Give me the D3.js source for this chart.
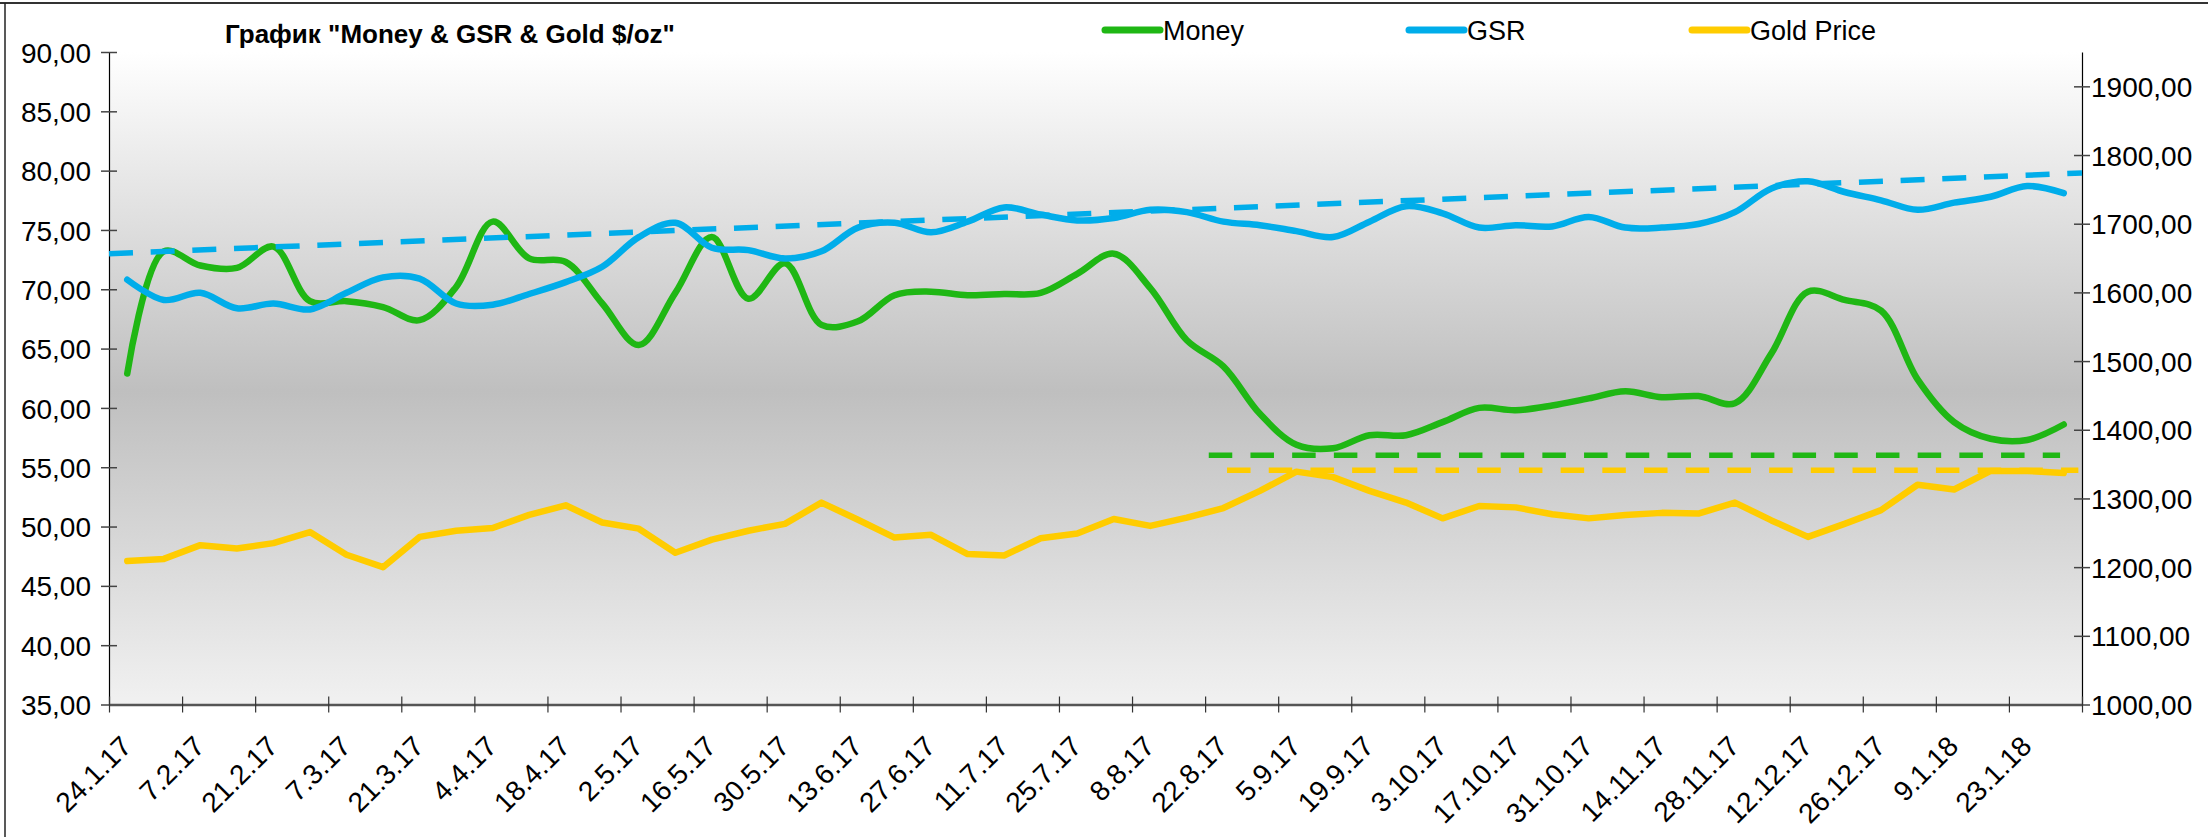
<!DOCTYPE html>
<html>
<head>
<meta charset="utf-8"/>
<title>Money & GSR & Gold</title>
<script src="https://cdn.jsdelivr.net/npm/d3@7"></script>
<style>
	body{margin:0;background:#fff;}
	svg{display:block;font-family:"Liberation Sans",Arial,sans-serif;}
	.tick text{font-size:28px;fill:#000;}
</style>
</head>
<body>
<script>
// weekly categories, every second one is labelled
var dates = ['24.1.17','31.1.17','7.2.17','14.2.17','21.2.17','28.2.17','7.3.17','14.3.17','21.3.17','28.3.17',
	'4.4.17','11.4.17','18.4.17','25.4.17','2.5.17','9.5.17','16.5.17','23.5.17','30.5.17','6.6.17',
	'13.6.17','20.6.17','27.6.17','4.7.17','11.7.17','18.7.17','25.7.17','1.8.17','8.8.17','15.8.17',
	'22.8.17','29.8.17','5.9.17','12.9.17','19.9.17','26.9.17','3.10.17','10.10.17','17.10.17','24.10.17',
	'31.10.17','7.11.17','14.11.17','21.11.17','28.11.17','5.12.17','12.12.17','19.12.17','26.12.17','2.1.18',
	'9.1.18','16.1.18','23.1.18','30.1.18'];

var money = [62.9,73.2,72.0,71.8,73.6,69.0,69.0,68.5,67.4,70.2,
	75.7,72.6,72.3,68.8,65.3,69.7,74.4,69.2,72.2,67.0,
	67.3,69.5,69.8,69.5,69.6,69.7,71.3,73.0,70.1,65.7,
	63.5,59.5,56.9,56.6,57.7,57.7,58.8,60.0,59.8,60.2,
	60.8,61.4,60.9,61.0,60.4,64.6,69.8,69.1,68.2,62.4,
	58.8,57.4,57.3,58.6];

var gsr = [70.8,69.1,69.7,68.4,68.8,68.3,69.7,71.0,70.9,68.8,
	68.7,69.6,70.6,71.9,74.4,75.6,73.5,73.3,72.6,73.2,
	75.2,75.6,74.8,75.7,76.9,76.3,75.8,76.0,76.7,76.5,
	75.7,75.4,74.9,74.4,75.7,77.0,76.4,75.2,75.4,75.3,
	76.1,75.2,75.2,75.5,76.5,78.5,79.1,78.2,77.5,76.7,
	77.3,77.8,78.7,78.1];

var gold = [1209,1212,1232,1227,1235,1251,1218,1200,1244,1253,
	1257,1276,1290,1265,1256,1221,1240,1253,1263,1294,
	1269,1243,1247,1219,1217,1242,1249,1270,1260,1272,
	1286,1311,1339,1331,1311,1294,1271,1289,1287,1277,
	1271,1276,1279,1278,1294,1268,1244,1263,1283,1320,
	1313,1340,1340,1337];

var leftTicks = [35,40,45,50,55,60,65,70,75,80,85,90];
var rightTicks = [1000,1100,1200,1300,1400,1500,1600,1700,1800,1900];

// GSR linear trend, values at the left and right plot edges
var gsrTrend = [73.0, 79.8];
// horizontal dashed levels (category positions where they start / end)
var moneyLevel = {value:56.0, from:29.6, to:52.9};
var goldLevel = {value:1341, from:30.1, to:53.4};

var seriesNames = ['Money','GSR','Gold Price'];
var seriesColors = ['#1fb714','#00adea','#ffcc00'];

var W = 2208, H = 837;
var pl = 109, pr = 2082, pt = 52, pb = 704.5;

var svg = d3.select('body').append('svg')
	.attr('width', W)
	.attr('height', H);

var defs = svg.append('defs');
var grad = defs.append('linearGradient')
	.attr('id','bg').attr('x1',0).attr('y1',0).attr('x2',0).attr('y2',1);
grad.append('stop').attr('offset','0').attr('stop-color','#ffffff');
grad.append('stop').attr('offset','0.52').attr('stop-color','#bfbfbf');
grad.append('stop').attr('offset','1').attr('stop-color','#f1f1f1');

// chart frame (cut by the window)
svg.append('line').attr('x1',0).attr('x2',W).attr('y1',3).attr('y2',3)
	.attr('stroke','#333').attr('stroke-width',2);
svg.append('line').attr('x1',5).attr('x2',5).attr('y1',3).attr('y2',H)
	.attr('stroke','#222').attr('stroke-width',1.5);

svg.append('rect')
	.attr('x',pl).attr('y',pt)
	.attr('width',pr-pl).attr('height',pb-pt)
	.attr('fill','url(#bg)');

var xi = d3.scaleLinear().domain([-0.5, dates.length-0.5]).range([pl,pr]);
var yL = d3.scaleLinear().domain([35,90]).range([pb,pt]);
var yR = d3.scaleLinear().domain([1000,1950]).range([pb,pt]);

var fmt = function(d){ return d3.format('.2f')(d).replace('.',','); };

// left axis
var ax = svg.append('g').attr('transform','translate('+pl+',0)')
	.call(d3.axisLeft(yL).tickValues(leftTicks).tickFormat(fmt).tickSizeOuter(0).tickPadding(18));
ax.select('.domain').attr('stroke','#000').attr('stroke-width',1.2);
ax.selectAll('.tick line').attr('x1',-8).attr('x2',8).attr('stroke','#444').attr('stroke-width',1.5);
ax.selectAll('.tick text').attr('x',-18).attr('dy','0.36em');

// right axis
var axr = svg.append('g').attr('transform','translate('+pr+',0)')
	.call(d3.axisRight(yR).tickValues(rightTicks).tickFormat(fmt).tickSizeOuter(0));
axr.select('.domain').attr('stroke','#000').attr('stroke-width',1.2);
axr.selectAll('.tick line').attr('x1',-8).attr('x2',8).attr('stroke','#444').attr('stroke-width',1.5);
axr.selectAll('.tick text').attr('x',9).attr('dy','0.36em');

// category axis
var axb = svg.append('g').attr('transform','translate(0,'+pb+')')
	.call(d3.axisBottom(xi).tickValues(d3.range(-0.5, dates.length, 2)).tickFormat('').tickSizeOuter(0));
axb.select('.domain').attr('stroke','#555').attr('stroke-width',2.5);
axb.selectAll('.tick line').attr('y1',-8).attr('y2',8).attr('stroke','#333').attr('stroke-width',1.2);

svg.append('g').selectAll('text')
	.data(dates.filter(function(d,i){ return i%2==0; }))
	.enter().append('text')
	.attr('transform',function(d,k){ return 'translate('+(xi(k*2)+6)+',748) rotate(-45)'; })
	.attr('text-anchor','end')
	.attr('font-size',28)
	.text(function(d){ return d; });

// series
var lineL = d3.line()
	.x(function(d,i){ return xi(i); })
	.y(function(d){ return yL(d); })
	.curve(d3.curveCatmullRom.alpha(0.5));

svg.append('path').datum(money)
	.attr('d',lineL).attr('fill','none')
	.attr('stroke',seriesColors[0]).attr('stroke-width',6.5)
	.attr('stroke-linecap','round').attr('stroke-linejoin','round');

svg.append('path').datum(gsr)
	.attr('d',lineL).attr('fill','none')
	.attr('stroke',seriesColors[1]).attr('stroke-width',6.5)
	.attr('stroke-linecap','round').attr('stroke-linejoin','round');

// GSR trend
svg.append('line')
	.attr('x1',xi(-0.5)).attr('x2',xi(dates.length-0.5))
	.attr('y1',yL(gsrTrend[0])).attr('y2',yL(gsrTrend[1]))
	.attr('stroke',seriesColors[1]).attr('stroke-width',5.5)
	.attr('stroke-dasharray','24,17.7');

var lineR = d3.line()
	.x(function(d,i){ return xi(i); })
	.y(function(d){ return yR(d); });

svg.append('path').datum(gold)
	.attr('d',lineR).attr('fill','none')
	.attr('stroke',seriesColors[2]).attr('stroke-width',6.5)
	.attr('stroke-linecap','round').attr('stroke-linejoin','round');

// level lines
svg.append('line')
	.attr('x1',xi(moneyLevel.from)).attr('x2',xi(moneyLevel.to))
	.attr('y1',yL(moneyLevel.value)).attr('y2',yL(moneyLevel.value))
	.attr('stroke',seriesColors[0]).attr('stroke-width',5.5)
	.attr('stroke-dasharray','23.5,18.2');
svg.append('line')
	.attr('x1',xi(goldLevel.from)).attr('x2',xi(goldLevel.to))
	.attr('y1',yR(goldLevel.value)).attr('y2',yR(goldLevel.value))
	.attr('stroke',seriesColors[2]).attr('stroke-width',5.5)
	.attr('stroke-dasharray','23.5,18.2');

// title
svg.append('text')
	.attr('x',225).attr('y',43)
	.attr('font-size',26).attr('font-weight','bold')
	.text('График "Money & GSR & Gold $/oz"');

// legend
var legX = [1105,1409,1692];
var leg = svg.append('g').selectAll('g').data(seriesNames)
	.enter().append('g')
	.attr('transform',function(d,i){ return 'translate('+legX[i]+',30)'; });
leg.append('line')
	.attr('x1',0).attr('x2',55).attr('y1',0).attr('y2',0)
	.attr('stroke',function(d,i){ return seriesColors[i]; })
	.attr('stroke-width',7).attr('stroke-linecap','round');
leg.append('text')
	.attr('x',58).attr('y',10)
	.attr('font-size',27)
	.text(function(d){ return d; });
</script>
</body>
</html>
